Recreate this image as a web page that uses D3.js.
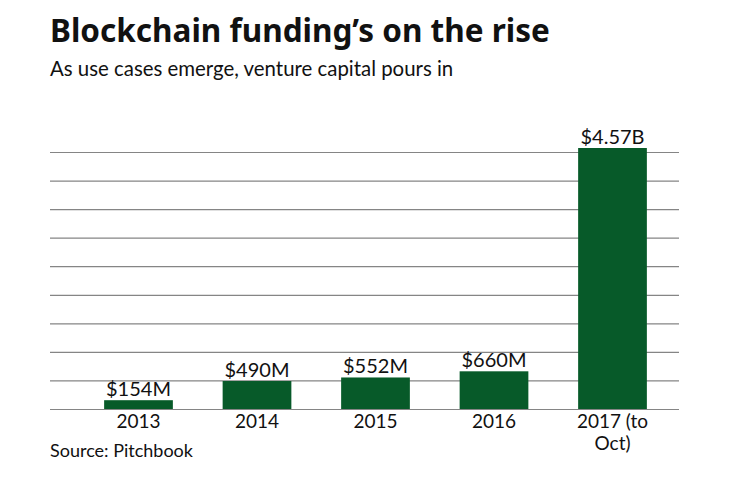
<!DOCTYPE html>
<html>
<head>
<meta charset="utf-8">
<script src="https://cdn.jsdelivr.net/npm/d3@7"></script>
<style>
  body { margin: 0; background: #fff; }
  svg text { font-family: Lato, "Noto Sans", sans-serif; }
  .grid line { stroke: #858585; stroke-width: 1.2; }
  .grid .domain { display: none; }
  .xaxis .domain, .xaxis line { display: none; }
</style>
</head>
<body>
<svg id="chart" width="740" height="482"></svg>
<script>
var years = ["2013", "2014", "2015", "2016", "2017 (to Oct)"],
    funding = [154, 490, 552, 660, 4570], // $ millions
    valueLabels = ["$154M", "$490M", "$552M", "$660M", "$4.57B"],
    gridTicks = d3.range(0, 4501, 500);

var svg = d3.select("#chart"),
    plotLeft = 50, plotRight = 679, plotTop = 152, plotBottom = 409;

var x = d3.scaleBand()
  .domain(years)
  .range([79.25, 671.75])
  .paddingInner(0.42)
  .paddingOuter(0.21);

var y = d3.scaleLinear()
  .domain([0, 4500])
  .range([plotBottom, plotTop]);

// title block
svg.append("text")
  .attr("x", 50).attr("y", 42)
  .style("font-family", "'Noto Sans', sans-serif")
  .attr("font-size", 31.5).attr("font-weight", "bold").attr("fill", "#111")
  .text("Blockchain funding’s on the rise");

svg.append("text")
  .attr("x", 50).attr("y", 76)
  .attr("font-size", 20.4).attr("fill", "#111")
  .text("As use cases emerge, venture capital pours in");

// gridlines
svg.append("g")
  .attr("class", "grid")
  .attr("transform", "translate(" + plotLeft + ",0)")
  .call(d3.axisLeft(y).tickValues(gridTicks).tickSize(-(plotRight - plotLeft)).tickFormat(""));

// bars
svg.append("g")
  .selectAll("rect")
  .data(funding)
  .join("rect")
  .attr("x", (d, i) => x(years[i]))
  .attr("width", x.bandwidth())
  .attr("y", d => y(d))
  .attr("height", d => y(0) - y(d))
  .attr("fill", "#075a29");

// value labels
svg.append("g")
  .selectAll("text")
  .data(funding)
  .join("text")
  .attr("x", (d, i) => x(years[i]) + x.bandwidth() / 2)
  .attr("y", d => y(d) - 4)
  .attr("text-anchor", "middle")
  .attr("font-size", 20).attr("fill", "#111")
  .text((d, i) => valueLabels[i]);

// x axis labels, wrapped like the original
var xa = svg.append("g")
  .attr("class", "xaxis")
  .attr("transform", "translate(0," + plotBottom + ")")
  .call(d3.axisBottom(x).tickSize(0).tickPadding(0).tickFormat(""));

xa.selectAll(".tick").append("text")
  .attr("fill", "#111")
  .attr("font-size", 19)
  .attr("text-anchor", "middle")
  .each(function(d) {
    var parts = d === "2017 (to Oct)" ? ["2017 (to", "Oct)"] : [d];
    var t = d3.select(this);
    parts.forEach((p, j) => {
      t.append("tspan").attr("x", 0).attr("y", 19 + j * 22).text(p);
    });
  });

svg.append("text")
  .attr("x", 50).attr("y", 457)
  .attr("font-size", 18).attr("fill", "#111")
  .text("Source: Pitchbook");
</script>
</body>
</html>
